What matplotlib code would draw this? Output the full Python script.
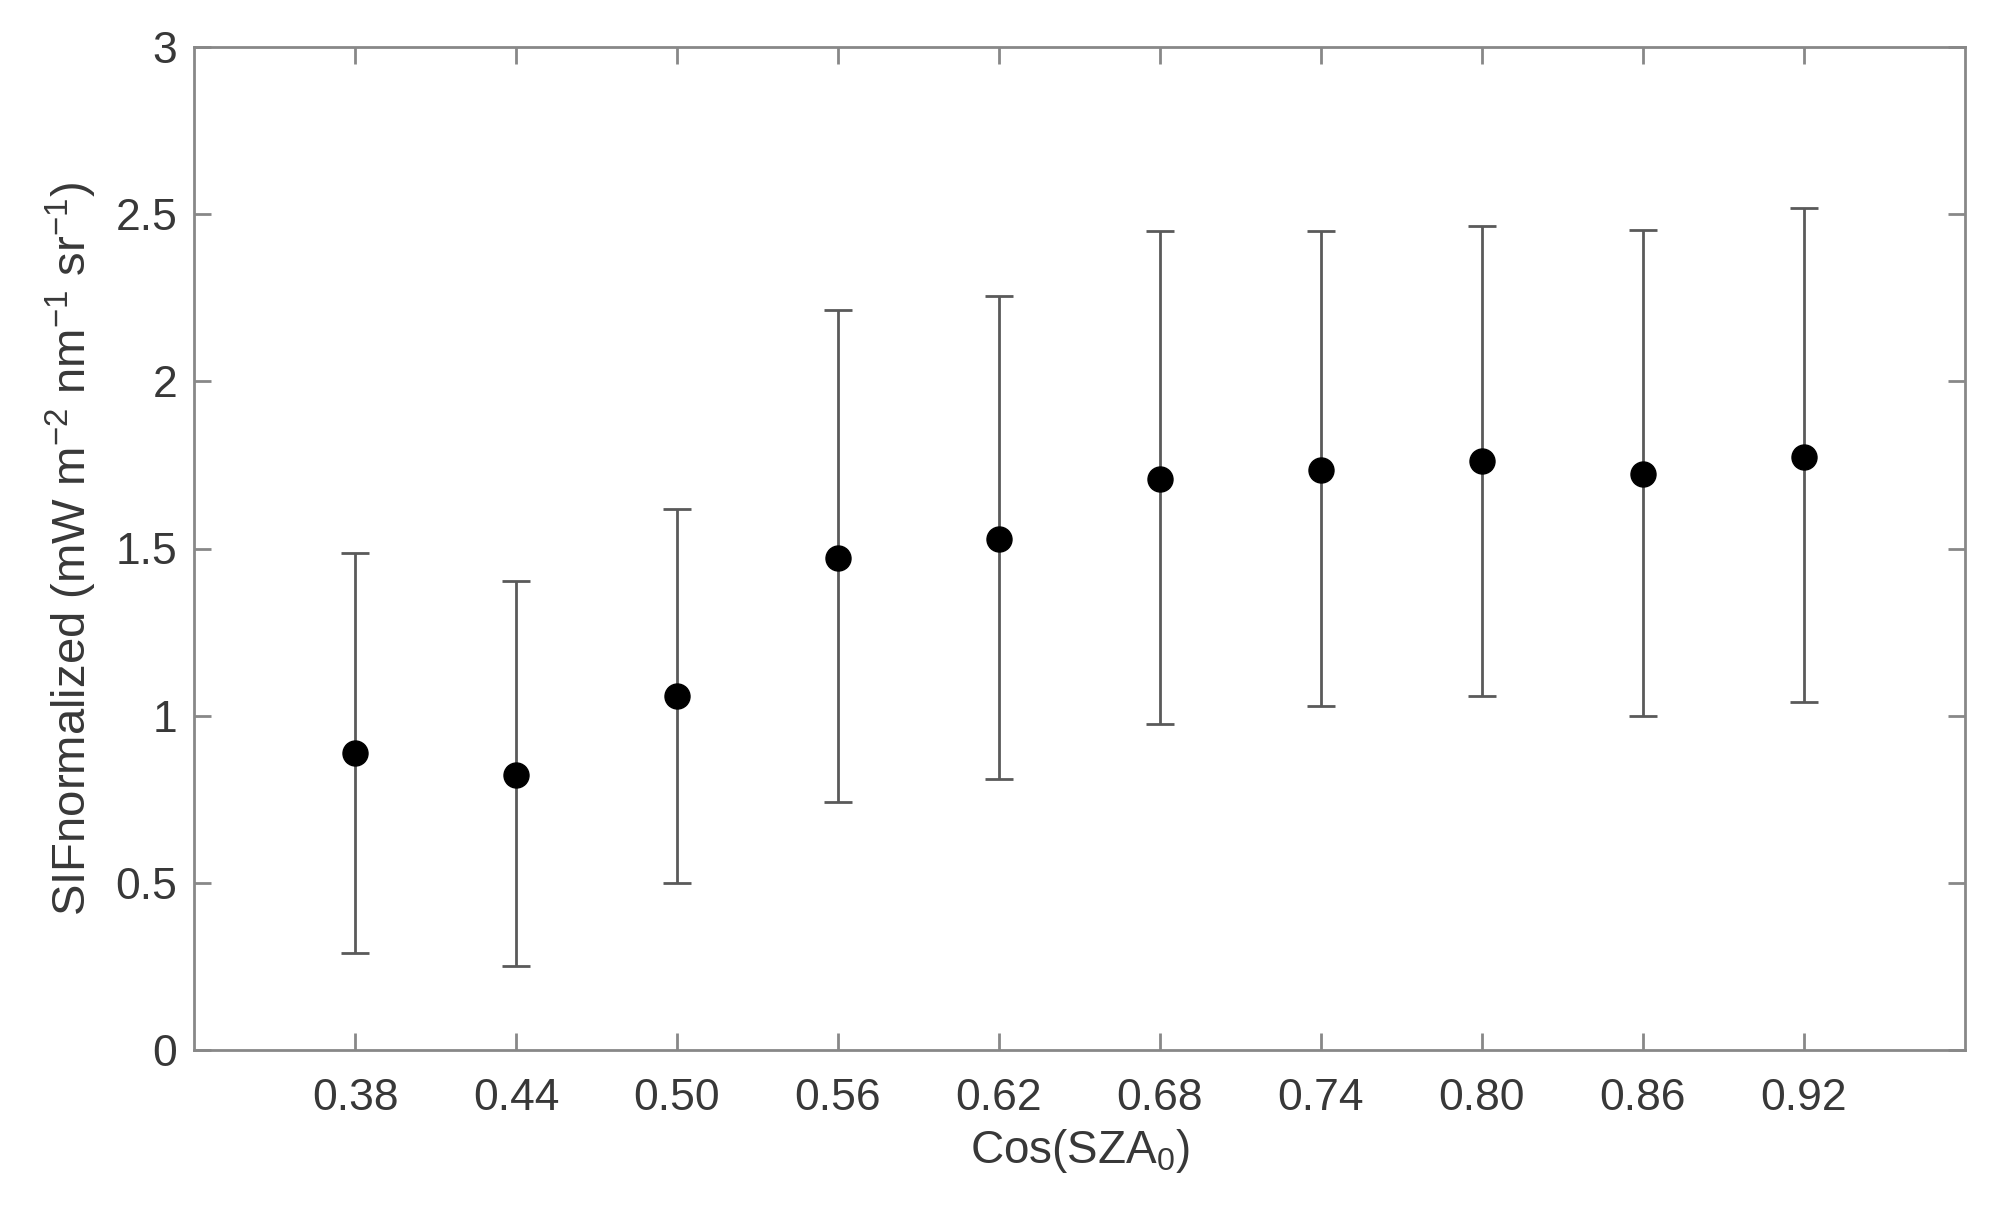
import matplotlib.pyplot as plt
import numpy as np

plt.rcParams['font.family'] = ['Liberation Sans', 'DejaVu Sans']
plt.rcParams['mathtext.fontset'] = 'custom'
plt.rcParams['mathtext.rm'] = 'Liberation Sans'

cos_sza = ["0.38", "0.44", "0.50", "0.56", "0.62", "0.68", "0.74", "0.80", "0.86", "0.92"]
sif_mean = [0.887, 0.822, 1.059, 1.472, 1.529, 1.709, 1.735, 1.762, 1.724, 1.774]
sif_upper = [1.487, 1.403, 1.617, 2.213, 2.255, 2.450, 2.450, 2.466, 2.454, 2.519]
sif_lower = [0.290, 0.252, 0.500, 0.742, 0.810, 0.975, 1.028, 1.059, 0.998, 1.040]

x = np.arange(1, len(cos_sza) + 1)
y = np.array(sif_mean)
err = [y - np.array(sif_lower), np.array(sif_upper) - y]

fig = plt.figure(figsize=(20.03, 12.18), dpi=100)
ax = fig.add_axes([194 / 2003, 1 - 1050 / 1218, (1965 - 194) / 2003, (1050 - 47) / 1218])

ax.errorbar(x, y, yerr=err, fmt='o', color='black', ms=18, ecolor='#5a5a5a',
            elinewidth=2, capsize=10, capthick=2)

ax.set_xlim(0, 11)
ax.set_ylim(0, 3)
ax.set_xticks(x)
ax.set_xticklabels(cos_sza)
ax.set_yticks([0, 0.5, 1, 1.5, 2, 2.5, 3])
ax.set_yticklabels(["0", "0.5", "1", "1.5", "2", "2.5", "3"])

for s in ax.spines.values():
    s.set_color('#888888')
    s.set_linewidth(2)
ax.tick_params(direction='in', length=12, width=2, color='#888888', labelsize=32,
               labelcolor='#383838', top=True, right=True)
ax.tick_params(axis='x', pad=20)
ax.tick_params(axis='y', pad=12)

ax.set_xlabel(r"Cos(SZA$_0$)", fontsize=33, color='#383838', labelpad=6)
ax.set_ylabel(r"SIFnormalized (mW m$^{-2}$ nm$^{-1}$ sr$^{-1}$)", fontsize=34,
              color='#383838', labelpad=12)

fig.savefig("out.png", dpi=100)
